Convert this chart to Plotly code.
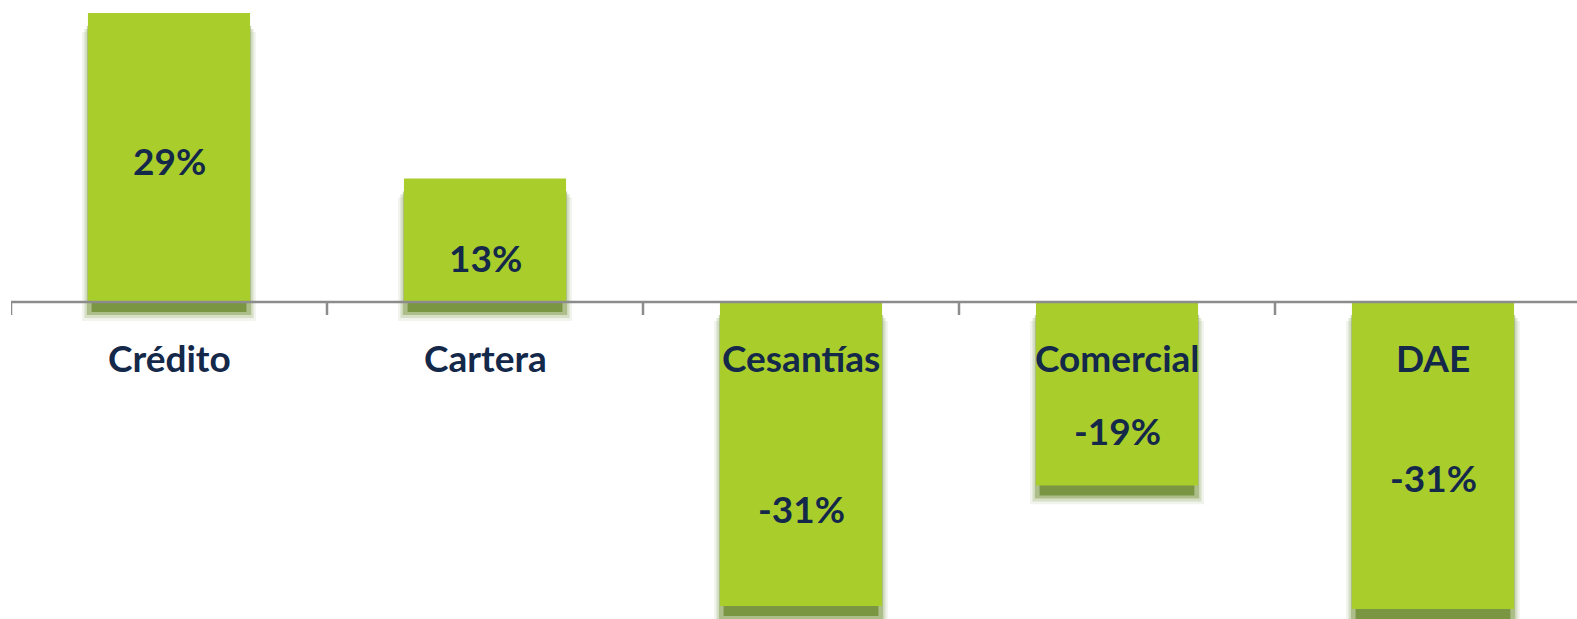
import plotly.graph_objects as go

categories = ["Crédito", "Cartera", "Cesantías", "Comercial", "DAE"]
values = [29.0, 12.4, -30.5, -18.4, -30.8]
labels = ["29%", "13%", "-31%", "-19%", "-31%"]

# where each value label sits, as a fraction of its bar
label_frac = [0.49, 0.36, 0.68, 0.70, 0.57]

GREEN = "#A9CE2C"
NAVY = "#14284A"
AXIS = "#8C8C8C"
FONT = "Lato"

W, H = 1577, 619
y_min, y_max = -31.8, 30.3
x_min = -0.5
x_max = x_min + (W - 11) / 316.0

fig = go.Figure()

# soft drop shadow, drawn as stacked bars: faint halo first, solid core last
for shift, width, color in [
    (1.9, 0.55, "rgba(122,150,66,0.10)"),
    (1.6, 0.535, "rgba(122,150,66,0.22)"),
    (1.3, 0.52, "rgba(122,150,66,0.45)"),
    (1.0, 0.49, "rgb(122,150,66)"),
]:
    fig.add_trace(go.Bar(
        x=list(range(len(categories))), y=values, base=[-shift] * len(values),
        width=width, marker=dict(color=color, line=dict(width=0)),
        hoverinfo="skip", showlegend=False,
    ))

fig.add_trace(go.Bar(
    x=list(range(len(categories))), y=values, width=0.513,
    marker=dict(color=GREEN, line=dict(width=0)), showlegend=False,
))

# zero line and ticks at category boundaries
fig.add_shape(type="line", xref="paper", yref="y", x0=0, x1=1, y0=0, y1=0,
              line=dict(color=AXIS, width=2.5), layer="above")
for i in range(len(categories) + 1):
    fig.add_shape(type="line", xref="x", yref="y", x0=i - 0.5, x1=i - 0.5, y0=0, y1=-1.3,
                  line=dict(color=AXIS, width=2.5), layer="above")

for i, (cat, v, lab, f) in enumerate(zip(categories, values, labels, label_frac)):
    fig.add_annotation(x=i, y=0, yshift=-55, text=f"<b>{cat}</b>", showarrow=False,
                       font=dict(family=FONT, size=37, color=NAVY))
    fig.add_annotation(x=i, y=v * f, text=f"<b>{lab}</b>", showarrow=False,
                       font=dict(family=FONT, size=37, color=NAVY))

fig.update_layout(
    width=W, height=H, barmode="overlay",
    margin=dict(l=11, r=0, t=0, b=0),
    paper_bgcolor="white", plot_bgcolor="white",
    xaxis=dict(range=[x_min, x_max], visible=False, fixedrange=True),
    yaxis=dict(range=[y_min, y_max], visible=False, fixedrange=True),
)

fig.write_html("out.html", config={"displayModeBar": False},
               post_script="document.body.style.margin='0';")
